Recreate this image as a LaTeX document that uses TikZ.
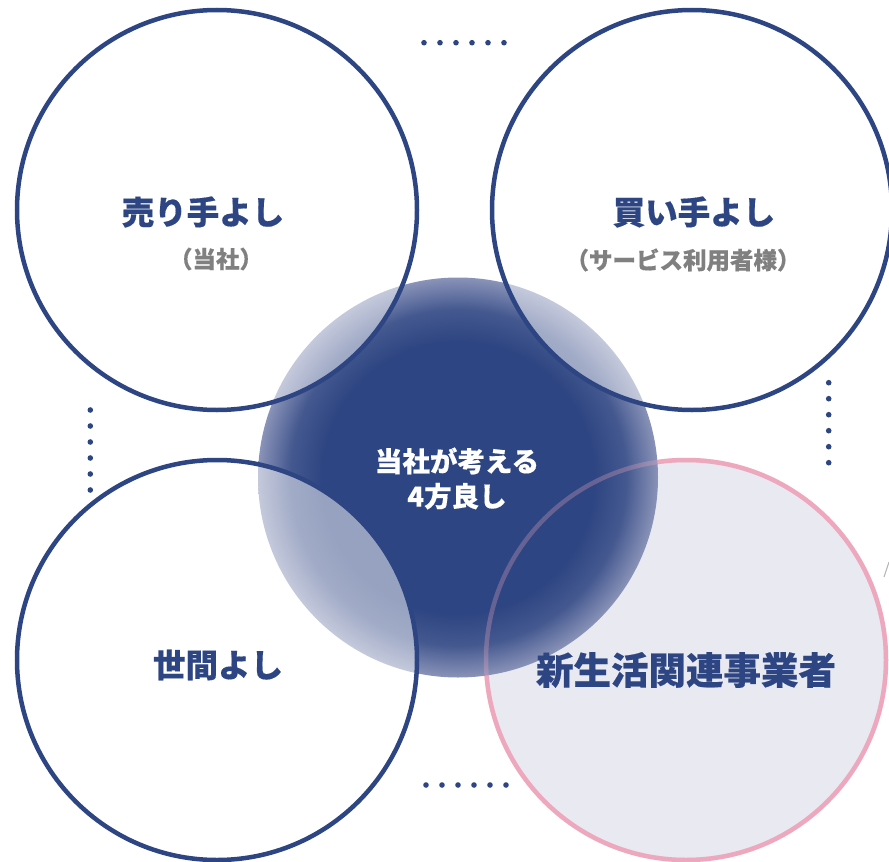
\documentclass[tikz,border=0pt]{standalone}
\usepackage{fontspec}
\newfontfamily\jp{Noto Sans CJK JP}[BoldFeatures={FakeBold=0.4}]
\definecolor{cnavy}{HTML}{2D4582}
\definecolor{cedge}{HTML}{8A93B8}
\definecolor{cpink}{HTML}{EEA8BE}
\definecolor{cpinkfill}{HTML}{E9EAF1}
\definecolor{cgray}{HTML}{808080}
\pgfdeclareradialshading{centreglow}{\pgfpoint{0bp}{0bp}}{color(0bp)=(cnavy); color(17bp)=(cnavy); color(21bp)=(cnavy!75!cedge); color(25bp)=(cedge); color(50bp)=(cedge)}
\tikzset{
  ring/.style={draw=cnavy, line width=4.5pt, fill=white, fill opacity=0.5, draw opacity=1},
  dotmark/.style={circle, fill=cnavy, inner sep=0pt, minimum size=5.6pt},
  title/.style={font=\jp\bfseries\fontsize{32.5}{38}\selectfont, text=cnavy, inner sep=0pt},
  sub/.style={font=\jp\bfseries\fontsize{23.5}{28}\selectfont, text=cgray, inner sep=0pt},
}
\begin{document}
\begin{tikzpicture}[x=1pt,y=-1pt]
\useasboundingbox (0,0) rectangle (889,862);
\clip (0,0) rectangle (889,862);
% pink circle (beneath the glow)
\fill[cpinkfill] (686,660) circle (200);
\draw[cpink, line width=4.5pt] (686,660) circle (200);
% central glow
\shade[shading=centreglow] (458,477.5) circle (200);
\draw[cpink, line width=4.5pt, opacity=0.3] (686,660) circle (200);
% white rings
\draw[ring] (217,210) circle (200);
\draw[ring] (692,210) circle (200);
\draw[ring] (217,660) circle (200);
% dots
\foreach \i [count=\k] in {0,...,5} {
  \node[dotmark] (t\k) at (424+16*\i,42.7) {};
  \node[dotmark] (b\k) at (426+16*\i,785) {};
  \node[dotmark] (l\k) at (90.3,410+16*\i) {};
  \node[dotmark] (r\k) at (828.7,382.7+16*\i) {};
}
% small cut-off mark at right edge
\draw[cgray!60, line width=1pt] (884,577) -- (889,562);
% texts
\node[title] (seller) at (203,212) {売り手よし};
\node[sub] (sellersub) at (216,259) {（当社）};
\node[title] (buyer) at (694,212) {買い手よし};
\node[sub] (buyersub) at (683,260) {（サービス利用者様）};
\node[title] (society) at (218,665) {世間よし};
\node[font=\jp\bfseries\fontsize{37.5}{42}\selectfont, text=cnavy, inner sep=0pt] (partners) at (686,670) {新生活関連事業者};
\node[font=\jp\bfseries\fontsize{27.5}{35}\selectfont, text=white, align=center, inner sep=0pt] (centre) at (457,478.5) {当社が考える\\4方良し};
\end{tikzpicture}
\end{document}
